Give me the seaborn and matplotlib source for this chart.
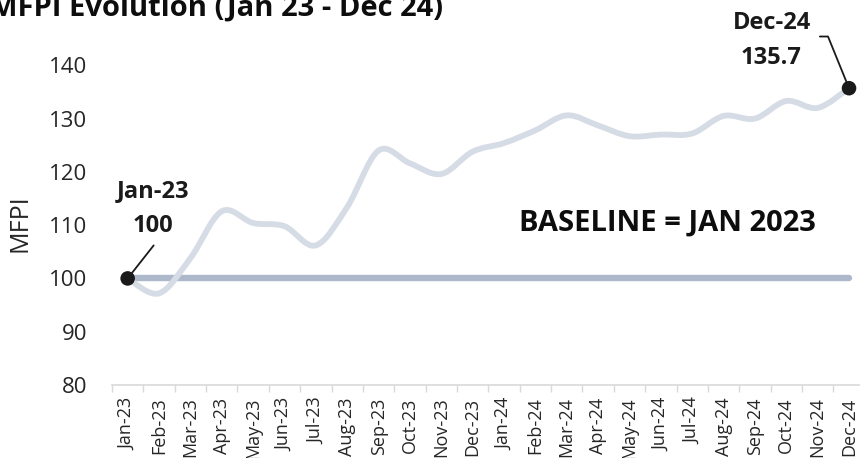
import numpy as np
import pandas as pd
import matplotlib
matplotlib.use("Agg")
import matplotlib.pyplot as plt
from matplotlib.path import Path
from matplotlib.patches import PathPatch
import seaborn as sns

months = ["Jan-23", "Feb-23", "Mar-23", "Apr-23", "May-23", "Jun-23",
          "Jul-23", "Aug-23", "Sep-23", "Oct-23", "Nov-23", "Dec-23",
          "Jan-24", "Feb-24", "Mar-24", "Apr-24", "May-24", "Jun-24",
          "Jul-24", "Aug-24", "Sep-24", "Oct-24", "Nov-24", "Dec-24"]
mfpi = [100.0, 97.2, 103.8, 112.6, 110.4, 109.8,
        106.2, 113.4, 124.0, 121.6, 119.6, 123.8,
        125.4, 127.8, 130.6, 128.7, 126.7, 127.0,
        127.2, 130.5, 130.0, 133.3, 132.0, 135.7]
baseline = [100.0] * len(months)

sns.set_theme(style="white")
plt.rcParams["font.family"] = ["Open Sans", "DejaVu Sans"]

df = pd.DataFrame({"month": months, "mfpi": mfpi, "baseline": baseline})
df["pos"] = np.arange(len(df))

fig = plt.figure(figsize=(8.6, 4.58), dpi=100)
ax = fig.add_axes([0.1302, 0.1594, 0.8698, 0.8144])

# baseline
sns.lineplot(data=df, x="pos", y="baseline", ax=ax, color="#ADB9CA",
             linewidth=4.6, solid_capstyle="round", zorder=2)

# smoothed series line (Catmull-Rom as cubic Bezier, like Excel smoothing)
xs = df["pos"].to_numpy(dtype=float)
ys = df["mfpi"].to_numpy(dtype=float)
pts = np.column_stack([xs, ys])
verts = [pts[0]]
codes = [Path.MOVETO]
n = len(pts)
for i in range(n - 1):
    p0 = pts[i - 1] if i > 0 else pts[i]
    p1 = pts[i]
    p2 = pts[i + 1]
    p3 = pts[i + 2] if i + 2 < n else pts[i + 1]
    c1 = p1 + (p2 - p0) / 6.0
    c2 = p2 - (p3 - p1) / 6.0
    verts += [c1, c2, p2]
    codes += [Path.CURVE4] * 3
ax.add_patch(PathPatch(Path(verts, codes), fill=False, edgecolor="#D6DCE5",
                       linewidth=4.2, capstyle="round", joinstyle="round",
                       zorder=3))

# end point markers
ends = df.iloc[[0, -1]]
sns.scatterplot(data=ends, x="pos", y="mfpi", ax=ax, color="#1A1A1A",
                s=110, edgecolor="none", zorder=5)

last = len(df) - 1
ax.plot([0, 0.83], [mfpi[0], 106.2], color="#1A1A1A", lw=1.3, zorder=4)
ax.plot([last - 0.93, last - 0.67, last], [145.4, 145.4, mfpi[-1]],
        color="#1A1A1A", lw=1.3, zorder=4)

lab = dict(ha="center", va="center", fontsize=17, fontweight="bold",
           color="#1A1A1A")
ax.text(0.82, 116.4, "Jan-23", **lab)
ax.text(0.82, 109.9, "100", **lab)
ax.text(last - 2.46, 147.9, "Dec-24", **lab)
ax.text(last - 2.5, 141.4, "135.7", **lab)
ax.text(17.2, 110.3, "BASELINE = JAN 2023", ha="center", va="center",
        fontsize=21, fontweight="bold", color="#0D0D0D")

ax.set_xlim(-0.5, 23.35)
ax.set_ylim(80, 150)
ax.set_yticks([80, 90, 100, 110, 120, 130, 140])
ax.set_xticks(np.arange(len(df)))
ax.set_xticklabels(months, rotation=90, fontsize=13, color="#262626")
ax.set_xticks(np.arange(len(df)) - 0.5, minor=True)
ax.tick_params(axis="x", which="major", length=0, pad=9)
ax.tick_params(axis="x", which="minor", length=5, width=1, color="#D9D9D9",
               direction="out", bottom=True)
ax.tick_params(axis="y", length=0, pad=18, labelsize=16, labelcolor="#262626")
ax.set_xlabel("")
ax.set_ylabel("MFPI", fontsize=18, color="#262626")
ax.yaxis.set_label_coords(-0.106, 0.434)

for side in ["left", "right", "top"]:
    ax.spines[side].set_visible(False)
ax.spines["bottom"].set_color("#D9D9D9")
ax.spines["bottom"].set_linewidth(1.2)

fig.text(-0.012, 0.967, "MFPI Evolution (Jan 23 - Dec 24)", ha="left",
         va="baseline", fontsize=21, fontweight="bold", color="#0D0D0D")

fig.savefig("out.png", dpi=100)
